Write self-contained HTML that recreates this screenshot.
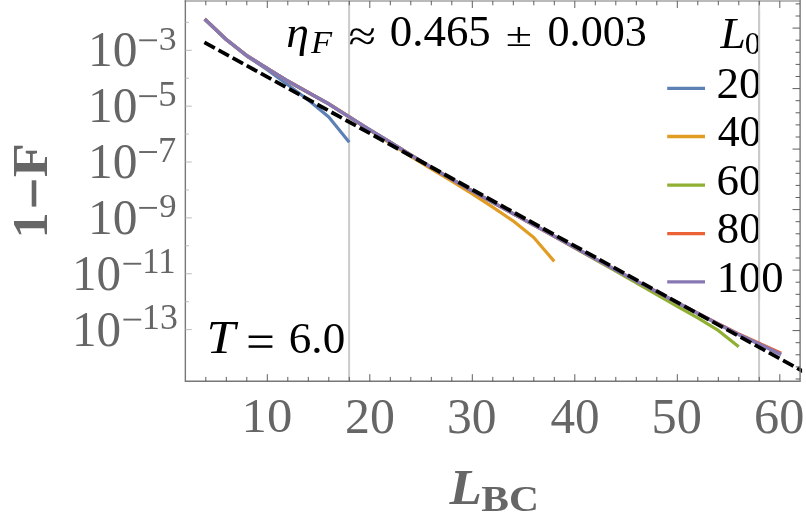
<!DOCTYPE html>
<html><head><meta charset="utf-8"><title>chart</title>
<style>
html,body{margin:0;padding:0;background:#fff;}
body{width:806px;height:520px;overflow:hidden;}
svg{display:block;will-change:transform;font-family:"Liberation Serif",serif;}
</style></head>
<body>
<svg width="806" height="520" viewBox="0 0 806 520">
<defs><clipPath id="clip"><rect x="185.3" y="0.9" width="616.8" height="380.4"/></clipPath></defs>
<rect width="806" height="520" fill="#ffffff"/>
<line x1="349.10" y1="0.9" x2="349.10" y2="381.3" stroke="#cacaca" stroke-width="2"/>
<line x1="759.10" y1="0.9" x2="759.10" y2="381.3" stroke="#cacaca" stroke-width="2"/>
<g clip-path="url(#clip)">
<polyline fill="none" stroke="#5e81b5" stroke-width="3.20" stroke-linejoin="round" points="204.70,19.40 226.25,39.80 246.75,56.10 267.25,69.60 287.75,84.80 308.25,100.00 328.75,117.10 349.25,142.20"/>
<polyline fill="none" stroke="#e19c24" stroke-width="3.20" stroke-linejoin="round" points="204.70,19.00 226.25,39.40 246.75,55.60 267.25,68.40 287.75,81.00 308.25,92.50 328.75,103.90 349.25,116.90 369.75,130.28 390.25,143.34 410.75,156.41 431.25,168.77 451.75,181.24 472.25,193.80 492.75,207.17 513.25,221.03 533.75,237.50 554.25,261.36"/>
<polyline fill="none" stroke="#8fb032" stroke-width="3.20" stroke-linejoin="round" points="204.70,19.00 226.25,39.40 246.75,55.60 267.25,68.40 287.75,81.00 308.25,92.50 328.75,103.90 349.25,116.90 369.75,129.78 390.25,142.24 410.75,154.91 431.25,167.27 451.75,179.24 472.25,191.00 492.75,202.47 513.25,213.73 533.75,224.90 554.25,236.46 574.75,248.03 595.25,259.59 615.75,271.16 636.25,282.82 656.75,294.59 677.25,306.25 697.75,317.92 718.25,330.48 738.75,346.65"/>
<polyline fill="none" stroke="#eb6235" stroke-width="3.20" stroke-linejoin="round" points="204.70,19.00 226.25,39.40 246.75,55.60 267.25,68.40 287.75,81.00 308.25,92.50 328.75,103.90 349.25,116.90 369.75,129.78 390.25,142.24 410.75,154.91 431.25,167.27 451.75,179.24 472.25,191.00 492.75,202.47 513.25,213.73 533.75,225.00 554.25,236.26 574.75,247.53 595.25,258.79 615.75,269.96 636.25,280.92 656.75,291.79 677.25,302.65 697.75,313.27 718.25,323.78 738.75,334.05 759.25,343.31 781.20,353.18"/>
<polyline fill="none" stroke="#8778b3" stroke-width="3.50" stroke-linejoin="round" points="204.70,19.00 226.25,39.40 246.75,55.60 267.25,68.40 287.75,81.00 308.25,92.50 328.75,103.90 349.25,116.90 369.75,129.78 390.25,142.24 410.75,154.91 431.25,167.27 451.75,179.24 472.25,191.00 492.75,202.47 513.25,213.73 533.75,225.00 554.25,236.26 574.75,247.53 595.25,258.79 615.75,269.96 636.25,280.92 656.75,291.79 677.25,302.65 697.75,313.42 718.25,324.08 738.75,334.55 759.25,344.11 781.20,354.58"/>
<line x1="204.4" y1="42.42" x2="812" y2="376.30" stroke="#000" stroke-width="3.8" stroke-dasharray="11.9 4.203"/>
</g>
<path d="M185.35 0.35V381.30H800.10V0.35" fill="none" stroke="#777777" stroke-width="1.4" stroke-linejoin="miter"/>
<line x1="184.65" x2="800.80" y1="0.95" y2="0.95" stroke="#777777" stroke-width="1.15"/>
<path d="M205.80 381.3v-4.4M205.80 0.9v4.4M226.30 381.3v-4.4M226.30 0.9v4.4M246.80 381.3v-4.4M246.80 0.9v4.4M267.30 381.3v-7.1M267.30 0.9v7.1M287.80 381.3v-4.4M287.80 0.9v4.4M308.30 381.3v-4.4M308.30 0.9v4.4M328.80 381.3v-4.4M328.80 0.9v4.4M349.30 381.3v-4.4M349.30 0.9v4.4M369.80 381.3v-7.1M369.80 0.9v7.1M390.30 381.3v-4.4M390.30 0.9v4.4M410.80 381.3v-4.4M410.80 0.9v4.4M431.30 381.3v-4.4M431.30 0.9v4.4M451.80 381.3v-4.4M451.80 0.9v4.4M472.30 381.3v-7.1M472.30 0.9v7.1M492.80 381.3v-4.4M492.80 0.9v4.4M513.30 381.3v-4.4M513.30 0.9v4.4M533.80 381.3v-4.4M533.80 0.9v4.4M554.30 381.3v-4.4M554.30 0.9v4.4M574.80 381.3v-7.1M574.80 0.9v7.1M595.30 381.3v-4.4M595.30 0.9v4.4M615.80 381.3v-4.4M615.80 0.9v4.4M636.30 381.3v-4.4M636.30 0.9v4.4M656.80 381.3v-4.4M656.80 0.9v4.4M677.30 381.3v-7.1M677.30 0.9v7.1M697.80 381.3v-4.4M697.80 0.9v4.4M718.30 381.3v-4.4M718.30 0.9v4.4M738.80 381.3v-4.4M738.80 0.9v4.4M759.30 381.3v-4.4M759.30 0.9v4.4M779.80 381.3v-7.1M779.80 0.9v7.1" stroke="#5e5e5e" stroke-width="1" fill="none"/>
<path d="M800.1 3.90h-4.5M800.1 16.00h-4.5M800.1 28.10h-7.6M800.1 40.20h-4.5M800.1 52.30h-4.5M800.1 64.40h-4.5M800.1 76.50h-4.5M800.1 88.60h-7.6M800.1 100.70h-4.5M800.1 112.80h-4.5M800.1 124.90h-4.5M800.1 137.00h-4.5M800.1 149.10h-7.6M800.1 161.20h-4.5M800.1 173.30h-4.5M800.1 185.40h-4.5M800.1 197.50h-4.5M800.1 209.60h-7.6M800.1 221.70h-4.5M800.1 233.80h-4.5M800.1 245.90h-4.5M800.1 258.00h-4.5M800.1 270.10h-7.6M800.1 282.20h-4.5M800.1 294.30h-4.5M800.1 306.40h-4.5M800.1 318.50h-4.5M800.1 330.60h-7.6M800.1 342.70h-4.5M800.1 354.80h-4.5M800.1 366.90h-4.5M800.1 379.00h-4.5" stroke="#5e5e5e" stroke-width="1" fill="none"/>
<path d="M185.3 22.37h3.5M185.3 50.30h6.5M185.3 78.23h3.5M185.3 106.16h6.5M185.3 134.09h3.5M185.3 162.02h6.5M185.3 189.95h3.5M185.3 217.88h6.5M185.3 245.81h3.5M185.3 273.74h6.5M185.3 301.67h3.5M185.3 329.60h6.5" stroke="#b4b4b4" stroke-width="0.9" fill="none"/>
<text transform="translate(88.06 66.20) scale(0.9668 1)" font-size="51.13" fill="#666666">10</text>
<line x1="139.2" x2="157" y1="40.30" y2="40.30" stroke="#666666" stroke-width="1.9"/>
<text transform="translate(158.69 49.86) scale(1.0376 1)" font-size="34.53" fill="#666666">3</text>
<text transform="translate(88.06 122.06) scale(0.9668 1)" font-size="51.13" fill="#666666">10</text>
<line x1="139.2" x2="157" y1="96.16" y2="96.16" stroke="#666666" stroke-width="1.9"/>
<text transform="translate(158.27 105.72) scale(1.0524 1)" font-size="34.91" fill="#666666">5</text>
<text transform="translate(88.06 177.92) scale(0.9668 1)" font-size="51.13" fill="#666666">10</text>
<line x1="139.2" x2="157" y1="152.02" y2="152.02" stroke="#666666" stroke-width="1.9"/>
<text transform="translate(157.99 161.92) scale(1.0307 1)" font-size="35.43" fill="#666666">7</text>
<text transform="translate(88.06 233.78) scale(0.9668 1)" font-size="51.13" fill="#666666">10</text>
<line x1="139.2" x2="157" y1="207.88" y2="207.88" stroke="#666666" stroke-width="1.9"/>
<text transform="translate(159.28 217.44) scale(1.0043 1)" font-size="34.53" fill="#666666">9</text>
<text transform="translate(71.98 289.64) scale(0.9623 1)" font-size="51.13" fill="#666666">10</text>
<line x1="123.4" x2="141.2" y1="263.74" y2="263.74" stroke="#666666" stroke-width="1.9"/>
<text transform="translate(142.16 273.04) scale(0.9810 1)" font-size="35.29" fill="#666666">11</text>
<text transform="translate(71.98 345.50) scale(0.9623 1)" font-size="51.13" fill="#666666">10</text>
<line x1="123.4" x2="141.2" y1="319.60" y2="319.60" stroke="#666666" stroke-width="1.9"/>
<text transform="translate(142.06 329.25) scale(1.0004 1)" font-size="35.72" fill="#666666">13</text>
<text transform="translate(241.55 432.32) scale(1.0240 1)" font-size="49.50" fill="#666666">10</text>
<text transform="translate(345.11 432.51) scale(0.9902 1)" font-size="50.38" fill="#666666">20</text>
<text transform="translate(447.03 432.51) scale(0.9836 1)" font-size="50.38" fill="#666666">30</text>
<text transform="translate(550.54 432.51) scale(0.9751 1)" font-size="50.38" fill="#666666">40</text>
<text transform="translate(651.57 432.51) scale(0.9992 1)" font-size="50.38" fill="#666666">50</text>
<text transform="translate(754.04 432.51) scale(0.9978 1)" font-size="50.38" fill="#666666">60</text>
<g transform="translate(46.8 234.3) rotate(-90)">
<text transform="translate(-4.20 0.00) scale(1.0487 1)" font-size="49.99" font-weight="bold" fill="#666666">1</text>
<rect x="27.7" y="-15.1" width="26.3" height="4.6" fill="#666666"/>
<text transform="translate(57.15 0.00) scale(1.1086 1)" font-size="50.40" font-weight="bold" fill="#666666">F</text>
</g>
<text transform="translate(449.59 503.70) scale(1.0619 1)" font-size="49.94" font-weight="bold" font-style="italic" fill="#666666">L</text>
<text transform="translate(481.31 510.55) scale(1.1666 1)" font-size="35.57" font-weight="bold" fill="#666666">BC</text>
<text transform="translate(286.17 46.51) scale(1.0528 1)" font-size="43.53" font-style="italic" fill="#000000">η</text>
<text transform="translate(311.09 53.30) scale(1.1156 1)" font-size="31.00" font-style="italic" fill="#000000">F</text>
<text transform="translate(348.41 51.17) scale(1.1354 1)" font-size="44.00" fill="#000000">≈</text>
<text transform="translate(389.79 46.47) scale(1.0102 1)" font-size="44.46" fill="#000000">0.465</text>
<text transform="translate(505.71 45.90) scale(1.4101 1)" font-size="33.99" fill="#000000">±</text>
<text transform="translate(547.52 46.47) scale(0.9936 1)" font-size="44.46" fill="#000000">0.003</text>
<text transform="translate(206.52 353.30) scale(1.1350 1)" font-size="45.51" font-style="italic" fill="#000000">T</text>
<rect x="248.6" y="335.5" width="23.8" height="2.5" fill="#000"/><rect x="248.6" y="345.3" width="23.8" height="2.5" fill="#000"/>
<text transform="translate(288.76 353.36) scale(0.9993 1)" font-size="45.20" fill="#000000">6.0</text>
<text transform="translate(720.53 47.50) scale(1.0106 1)" font-size="45.05" font-style="italic" fill="#000000">L</text>
<text transform="translate(744.78 53.50) scale(1.0410 1)" font-size="30.82" fill="#000000">0</text>
<line x1="667.2" x2="705.0" y1="88.4" y2="88.4" stroke="#5e81b5" stroke-width="3.3"/>
<text transform="translate(716.52 98.16) scale(0.9978 1)" font-size="45.20" fill="#000000">20</text>
<line x1="667.2" x2="705.0" y1="136.5" y2="136.5" stroke="#e19c24" stroke-width="3.3"/>
<text transform="translate(717.64 146.26) scale(0.9720 1)" font-size="45.20" fill="#000000">40</text>
<line x1="667.2" x2="705.0" y1="185.2" y2="185.2" stroke="#8fb032" stroke-width="3.3"/>
<text transform="translate(716.56 194.96) scale(0.9968 1)" font-size="45.20" fill="#000000">60</text>
<line x1="667.2" x2="705.0" y1="233.6" y2="233.6" stroke="#eb6235" stroke-width="3.3"/>
<text transform="translate(716.79 243.36) scale(0.9915 1)" font-size="45.20" fill="#000000">80</text>
<line x1="667.2" x2="705.0" y1="281.8" y2="281.8" stroke="#8778b3" stroke-width="3.3"/>
<text transform="translate(716.67 291.56) scale(0.9887 1)" font-size="45.20" fill="#000000">100</text>
<line x1="759.10" y1="10" x2="759.10" y2="300" stroke="#cacaca" stroke-width="2"/>
</svg>
</body></html>
